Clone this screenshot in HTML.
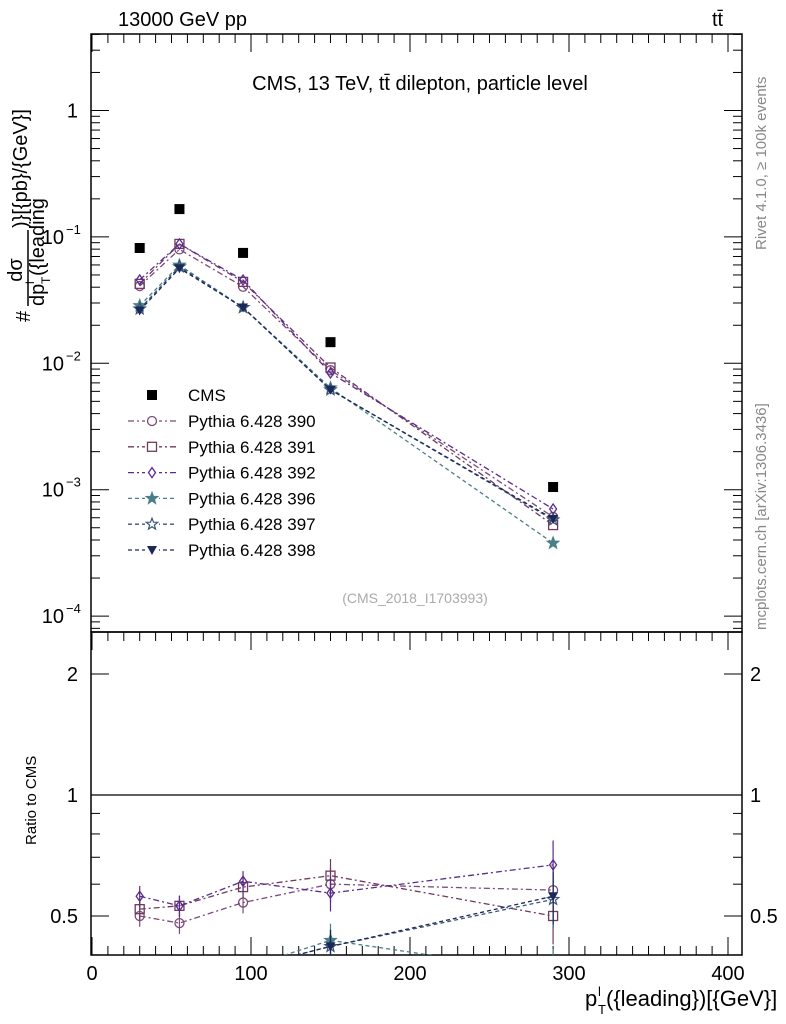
<!DOCTYPE html>
<html><head><meta charset="utf-8"><style>
body{margin:0;background:#fff;}
svg{display:block;font-family:"Liberation Sans",sans-serif;}
</style></head><body>
<svg id="c" width="786" height="1024" viewBox="0 0 786 1024" xmlns="http://www.w3.org/2000/svg">
<g id="frame"></g>
<text x="118" y="26" font-size="20">13000 GeV pp</text>
<text x="712" y="26" font-size="20">tt̄</text>
<text x="420" y="90" font-size="20" text-anchor="middle">CMS, 13 TeV, tt̄ dilepton, particle level</text>
<text x="415" y="603" font-size="14" fill="#aaa" text-anchor="middle">(CMS_2018_I1703993)</text>
<text transform="translate(766,250) rotate(-90)" font-size="15" fill="#888">Rivet 4.1.0, ≥ 100k events</text>
<text transform="translate(766,630) rotate(-90)" font-size="15" fill="#888">mcplots.cern.ch [arXiv:1306.3436]</text>
<g transform="translate(30,322) rotate(-90)">
<text x="0" y="0" font-size="20">#</text>
<text x="52" y="-8" font-size="20" text-anchor="middle">dσ</text>
<line x1="16" y1="-2" x2="92" y2="-2" stroke="#000" stroke-width="1.5"/>
<text x="16" y="14" font-size="20">dp</text>
<text x="38" y="4" font-size="12">l</text>
<text x="38" y="20" font-size="12">T</text>
<text x="46" y="14" font-size="20">({leading</text>
<text x="94" y="-3" font-size="20">)}[{pb}/{GeV}]</text>
</g>
<text transform="translate(36,845) rotate(-90)" font-size="15">Ratio to CMS</text>
<g>
<text x="585" y="1006" font-size="22">p</text>
<text x="598" y="996" font-size="13">l</text>
<text x="598" y="1014" font-size="13">T</text>
<text x="606" y="1006" font-size="22">({leading})[{GeV}]</text>
</g>
<g id="legend"></g>
<g id="plot"></g>
</svg>
<script>
const xVals=[30,55,95,150,290];
const cmsVals=[0.0817,0.166,0.0747,0.0147,0.00105];
const r390=[0.50,0.48,0.54,0.60,0.58];
const r391=[0.52,0.53,0.59,0.63,0.50];
const r392=[0.56,0.53,0.61,0.57,0.67];
const r396=[0.35,0.36,0.37,0.435,0.36];
const r397=[0.33,0.35,0.37,0.42,0.55];
const r398=[0.32,0.34,0.37,0.42,0.56];
const xTicks=[0,100,200,300,400];

const NS="http://www.w3.org/2000/svg";
const L=91,R=742,T=34,MB=632,RB=955;
const X=v=>92+1.59*v;
const Y=v=>110.5-126.4*Math.log10(v);
const RY=v=>795-121*Math.log2(v);
function mk(tag,attrs,parent){const e=document.createElementNS(NS,tag);for(const k in attrs)e.setAttribute(k,attrs[k]);parent.appendChild(e);return e;}
const fr=document.getElementById('frame'),pl=document.getElementById('plot'),lg=document.getElementById('legend');
let f1=mk('rect',{x:L,y:T,width:R-L,height:MB-T,fill:'none',stroke:'#000','stroke-width':1.5},fr);


let f2=mk('rect',{x:L,y:MB,width:R-L,height:RB-MB,fill:'none',stroke:'#000','stroke-width':1.5},fr);


for(let d=-5;d<=0;d++){for(let m=1;m<10;m++){const v=m*Math.pow(10,d);const y=Y(v);if(y<T||y>MB)continue;const len=m==1?18:9;
mk('line',{x1:L,y1:y,x2:L+len,y2:y,stroke:'#000'},fr);mk('line',{x1:R,y1:y,x2:R-len,y2:y,stroke:'#000'},fr);}}
const yl=[[1,'1'],[0.1,'10','−1'],[0.01,'10','−2'],[0.001,'10','−3'],[0.0001,'10','−4']];
yl.forEach(a=>{const y=Y(a[0]);const t=mk('text',{x:a[2]?64:78,y:y+7,'font-size':20,'text-anchor':'end'},fr);t.textContent=a[1];


if(a[2]){const s=mk('text',{x:66,y:y-3,'font-size':13},fr);s.textContent=a[2];}});
[0.4,0.5,0.6,0.7,0.8,0.9,1,2].forEach(v=>{const y=RY(v);const len=(v==0.5||v==1||v==2)?18:9;
mk('line',{x1:L,y1:y,x2:L+len,y2:y,stroke:'#000'},fr);mk('line',{x1:R,y1:y,x2:R-len,y2:y,stroke:'#000'},fr);});
[[0.5,'0.5'],[1,'1'],[2,'2']].forEach(a=>{const y=RY(a[0]);
const t=mk('text',{x:78,y:y+7,'font-size':20,'text-anchor':'end'},fr);t.textContent=a[1];


const t2=mk('text',{x:750,y:y+7,'font-size':20},fr);t2.textContent=a[1];});
mk('line',{x1:L,y1:RY(1),x2:R,y2:RY(1),stroke:'#000','stroke-width':1.2},fr);
for(let v=0;v<=405;v+=10){const x=X(v);const len=v%100==0?18:9;
mk('line',{x1:x,y1:RB,x2:x,y2:RB-len,stroke:'#000'},fr);mk('line',{x1:x,y1:T,x2:x,y2:T+len,stroke:'#000'},fr);
mk('line',{x1:x,y1:MB,x2:x,y2:MB+len,stroke:'#000'},fr);}
xTicks.forEach(v=>{const t=mk('text',{x:X(v),y:980,'font-size':20,'text-anchor':'middle'},fr);t.textContent=v;

});
const series=[
{n:'390',r:r390,c:'#7b4a78',m:'circle',d:'6,3,2,3'},
{n:'391',r:r391,c:'#6e3a5e',m:'square',d:'6,3,2,3'},
{n:'392',r:r392,c:'#5a2a8e',m:'diamond',d:'6,3,2,3'},
{n:'396',r:r396,c:'#4a7f88',m:'star',d:'4,3'},
{n:'397',r:r397,c:'#3a5578',m:'ostar',d:'4,3'},
{n:'398',r:r398,c:'#1c2858',m:'tri',d:'4,3'}];
function marker(g,m,x,y,c){
 if(m=='circle')mk('circle',{cx:x,cy:y,r:4.5,fill:'none',stroke:c,'stroke-width':1.3},g);
 else if(m=='square')mk('rect',{x:x-4.5,y:y-4.5,width:9,height:9,fill:'none',stroke:c,'stroke-width':1.3},g);
 else if(m=='diamond')mk('polygon',{points:`${x},${y-5} ${x+3.5},${y} ${x},${y+5} ${x-3.5},${y}`,fill:'none',stroke:c,'stroke-width':1.3},g);
 else if(m=='star'||m=='ostar'){let p=[];for(let i=0;i<10;i++){const a=-Math.PI/2+i*Math.PI/5;const rr=i%2?2.5:6;p.push((x+rr*Math.cos(a)).toFixed(1)+','+(y+rr*Math.sin(a)).toFixed(1));}
  mk('polygon',{points:p.join(' '),fill:m=='star'?c:'none',stroke:c,'stroke-width':1.2},g);}
 else if(m=='tri')mk('polygon',{points:`${x-5},${y-4} ${x+5},${y-4} ${x},${y+5}`,fill:c},g);
 else if(m=='sq')mk('rect',{x:x-5,y:y-5,width:10,height:10,fill:c},g);
}
const cp=mk('clipPath',{id:'cpr'},pl);mk('rect',{x:L,y:MB,width:R-L,height:RB-MB},cp);
series.forEach((s,si)=>{
 const g=mk('g',{},pl);
 
 
 const pts=xVals.map((x,i)=>[X(x),Y(s.r[i]*cmsVals[i])]);
 mk('polyline',{points:pts.map(p=>p.join(',')).join(' '),fill:'none',stroke:s.c,'stroke-width':1.3,'stroke-dasharray':s.d},g);
 pts.forEach(p=>marker(g,s.m,p[0],p[1],s.c));
 const gr=mk('g',{'clip-path':'url(#cpr)'},pl);
 
 
 const rp=xVals.map((x,i)=>[X(x),RY(s.r[i])]);
 mk('polyline',{points:rp.map(p=>p.join(',')).join(' '),fill:'none',stroke:s.c,'stroke-width':1.3,'stroke-dasharray':s.d},gr);
 rp.forEach((p,i)=>{const e=i==4?0.15:(i==3?0.1:0.06);mk('line',{x1:p[0],y1:RY(s.r[i]*(1+e)),x2:p[0],y2:RY(s.r[i]*(1-e)),stroke:s.c,'stroke-width':1.2},gr);marker(gr,s.m,p[0],p[1],s.c);});
 const ly=421+si*25.8;
 const lgE=mk('g',{},lg);
 
 
 mk('line',{x1:128,y1:ly,x2:176,y2:ly,stroke:s.c,'stroke-width':1.3,'stroke-dasharray':s.d},lgE);
 mk('rect',{x:145,y:ly-7,width:14,height:14,fill:'#fff'},lgE);
 marker(lgE,s.m,152,ly,s.c);
 const t=mk('text',{x:188,y:ly+6,'font-size':17},lgE);t.textContent='Pythia 6.428 '+s.n;
});
const gc=mk('g',{},pl);


xVals.forEach((x,i)=>marker(gc,'sq',X(x),Y(cmsVals[i]),'#000'));
const lc=mk('g',{},lg);


marker(lc,'sq',152,395,'#000');
const tc=mk('text',{x:188,y:401,'font-size':17},lc);tc.textContent='CMS';
</script>
</body></html>
